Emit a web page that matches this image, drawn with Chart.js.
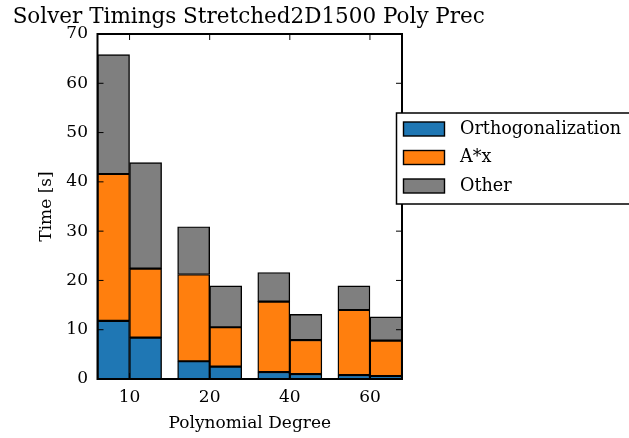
<!DOCTYPE html>
<html>
<head>
<meta charset="utf-8">
<script src="https://cdn.jsdelivr.net/npm/chart.js@4"></script>
<style>
html,body{margin:0;padding:0;background:#fff;}
#wrap{width:629px;height:438px;overflow:hidden;}
</style>
</head>
<body>
<div id="wrap"><canvas id="c" width="629" height="438"></canvas></div>
<script>
// ---- data ----
const chartTitle = 'Solver Timings Stretched2D1500 Poly Prec';
const degrees = [10, 20, 40, 60];            // x tick labels (groups)
const barsPerGroup = 2;                      // two bars per polynomial degree
// values per bar, in order: deg10 bar1, deg10 bar2, deg20 bar1, ...
const orthogonalization = [11.8, 8.4, 3.6, 2.5, 1.4, 1.0, 0.8, 0.6];
const axProduct        = [29.8, 14.0, 17.6, 8.0, 14.3, 6.9, 13.2, 7.2];
const other            = [24.2, 21.5, 9.7, 8.4, 5.9, 5.2, 4.9, 4.8];
const seriesNames = ['Orthogonalization', 'A*x', 'Other'];
const yMin = 0, yMax = 70, yStep = 10;

// ---- layout helpers ----
const groupGap = 0.5;
const groupStride = barsPerGroup + groupGap;
function barX(i) { return Math.floor(i / barsPerGroup) * groupStride + (i % barsPerGroup); }
function groupCenter(g) { return g * groupStride + (barsPerGroup - 1) / 2; }

const FONT = "'DejaVu Serif', serif";
Chart.defaults.font.family = FONT;
Chart.defaults.color = '#000';

const colors = ['#1f77b4', '#ff7f0e', '#7f7f7f'];
const seriesValues = [orthogonalization, axProduct, other];

const datasets = seriesValues.map((vals, k) => ({
  label: seriesNames[k],
  data: vals.map((v, i) => ({x: barX(i), y: v})),
  backgroundColor: colors[k],
  borderColor: '#000',
  borderWidth: 1.4,
  borderSkipped: false,
  barPercentage: 1,
  categoryPercentage: 1
}));

const titlePlugin = {
  id: 'wideTitle',
  afterDraw(chart) {
    const {ctx, chartArea: a} = chart;
    ctx.save();
    ctx.font = '21.5px ' + FONT;
    ctx.fillStyle = '#000';
    ctx.textAlign = 'center';
    ctx.textBaseline = 'middle';
    ctx.fillText(chartTitle, (a.left + a.right) / 2 - 1, 17.6);
    ctx.restore();
  }
};

const framePlugin = {
  id: 'frame',
  afterDatasetsDraw(chart) {
    const {ctx, chartArea: a, scales: {x, y}} = chart;
    ctx.save();
    ctx.strokeStyle = '#000';
    ctx.lineWidth = 1;
    const L = 6;
    y.ticks.forEach(t => {
      const py = y.getPixelForValue(t.value);
      ctx.beginPath();
      ctx.moveTo(a.left, py); ctx.lineTo(a.left + L, py);
      ctx.moveTo(a.right, py); ctx.lineTo(a.right - L, py);
      ctx.stroke();
    });
    x.ticks.forEach(t => {
      const px = x.getPixelForValue(t.value);
      ctx.beginPath();
      ctx.moveTo(px, a.top); ctx.lineTo(px, a.top + L);
      ctx.moveTo(px, a.bottom); ctx.lineTo(px, a.bottom - L);
      ctx.stroke();
    });
    ctx.lineWidth = 2;
    ctx.strokeRect(a.left, a.top, a.right - a.left, a.bottom - a.top);
    ctx.restore();
  }
};

const legendPlugin = {
  id: 'boxLegend',
  afterDraw(chart) {
    const {ctx} = chart;
    const bx = 396.5, by = 113, bw = 300, bh = 91;
    ctx.save();
    ctx.fillStyle = '#fff';
    ctx.fillRect(bx, by, bw, bh);
    ctx.strokeStyle = '#000';
    ctx.lineWidth = 1.5;
    ctx.strokeRect(bx, by, bw, bh);
    ctx.font = '17.6px ' + FONT;
    ctx.textBaseline = 'middle';
    ctx.textAlign = 'left';
    chart.data.datasets.forEach((ds, k) => {
      const cy = 129 + k * 28.5;
      ctx.fillStyle = ds.backgroundColor;
      ctx.fillRect(403.5, cy - 7, 41, 14);
      ctx.lineWidth = 1.4;
      ctx.strokeRect(403.5, cy - 7, 41, 14);
      ctx.fillStyle = '#000';
      ctx.fillText(ds.label, 460, cy);
    });
    ctx.restore();
  }
};

new Chart(document.getElementById('c'), {
  type: 'bar',
  data: {datasets},
  options: {
    responsive: false,
    animation: false,
    devicePixelRatio: 1,
    layout: {padding: {top: 34, left: 0, right: 227, bottom: 0}},
    plugins: {
      legend: {display: false},
      tooltip: {enabled: false},
      title: {display: false}
    },
    scales: {
      x: {
        type: 'linear',
        stacked: true,
        offset: false,
        min: -0.5,
        max: barX(orthogonalization.length - 1) + 0.5,
        grid: {display: false, drawTicks: false, offset: false},
        border: {display: false},
        afterFit: s => { s.height = 59; },
        afterBuildTicks: s => { s.ticks = degrees.map((d, g) => ({value: groupCenter(g)})); },
        ticks: {
          autoSkip: false, maxRotation: 0, padding: 8.5,
          font: {size: 17},
          color: '#000',
          callback: (v) => {
            const g = degrees.findIndex((d, gi) => Math.abs(groupCenter(gi) - v) < 1e-6);
            return g >= 0 ? String(degrees[g]) : '';
          }
        },
        title: {display: true, text: 'Polynomial Degree', font: {size: 17}, color: '#000', padding: {top: 0, bottom: 4}}
      },
      y: {
        stacked: true,
        min: yMin, max: yMax,
        grid: {display: false, drawTicks: false},
        border: {display: false},
        afterFit: s => { s.width = 97.5; },
        ticks: {stepSize: yStep, padding: 9.5, font: {size: 17}, color: '#000'},
        title: {display: true, text: 'Time [s]', font: {size: 17}, color: '#000', padding: {top: 36, bottom: 0}}
      }
    }
  },
  plugins: [framePlugin, legendPlugin, titlePlugin]
});
</script>
</body>
</html>
